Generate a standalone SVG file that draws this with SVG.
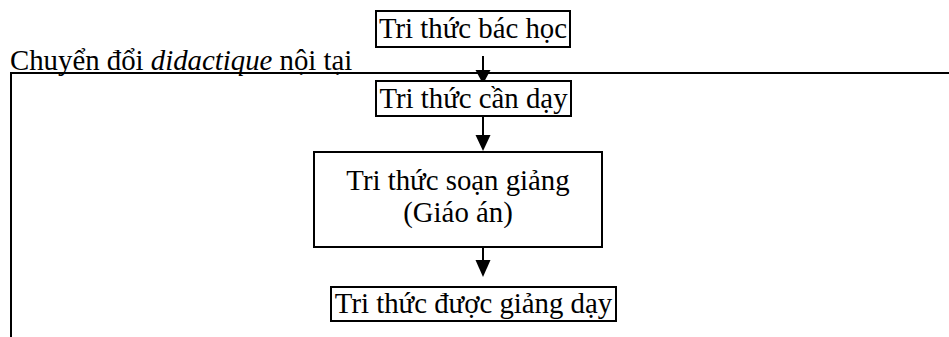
<svg xmlns="http://www.w3.org/2000/svg" width="949" height="337" viewBox="0 0 949 337">
<style>
.box{fill:#fff;stroke:#000;stroke-width:2}
.t{font-family:"Liberation Serif","Times New Roman",serif;font-size:28.8px;fill:#000}
.ln{stroke:#000;stroke-width:2;fill:none}
.ah{fill:#000}
</style>
<rect width="949" height="337" fill="#fff"/>
<g id="frame">
<path class="ln" d="M11,337 L11,73 L949,73"/>
<text class="t" x="10" y="70">Chuyển đổi <tspan font-style="italic">didactique</tspan> nội tại</text>
</g>
<g id="connectors">
<line class="ln" x1="483" y1="56" x2="483" y2="72"/>
<path class="ah" d="M475.5,70 L490.5,70 L483,84 Z"/>
<line class="ln" x1="483" y1="117" x2="483" y2="136"/>
<path class="ah" d="M475.5,135 L490.5,135 L483,151 Z"/>
<line class="ln" x1="483" y1="248" x2="483" y2="262"/>
<path class="ah" d="M475.5,260 L490.5,260 L483,277 Z"/>
</g>
<g id="n1">
<rect class="box" x="376" y="11" width="194" height="36"/>
<text class="t" x="473" y="37.5" text-anchor="middle">Tri thức bác học</text>
</g>
<g id="n2">
<rect class="box" x="376" y="81" width="195" height="35"/>
<text class="t" x="473.5" y="107.5" text-anchor="middle">Tri thức cần dạy</text>
</g>
<g id="n3">
<rect class="box" x="314" y="152" width="288" height="95"/>
<text class="t" x="458" y="190" text-anchor="middle">Tri thức soạn giảng</text>
<text class="t" x="458" y="222" text-anchor="middle">(Giáo án)</text>
</g>
<g id="n4">
<rect class="box" x="331" y="287" width="285" height="34"/>
<text class="t" x="473.5" y="313" text-anchor="middle">Tri thức được giảng dạy</text>
</g>
</svg>
